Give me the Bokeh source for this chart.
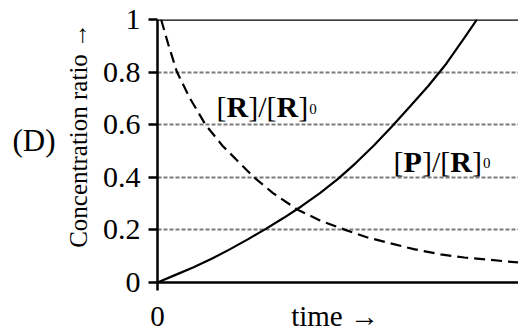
from bokeh.plotting import figure
from bokeh.models import Range1d, FixedTicker, Span, LinearAxis, ColumnDataSource
from bokeh.core.properties import value
from bokeh.embed import file_html
from bokeh.resources import INLINE

# ---- data ----
p_time = [0.0, 0.5, 1.0, 1.5, 2.0, 2.5, 3.0, 3.5, 4.0, 4.5, 5.0, 5.5, 6.0, 6.5, 7.0, 7.5, 8.0, 8.5, 8.85]
p_ratio = [0.0, 0.029, 0.058, 0.090, 0.126, 0.164, 0.204, 0.246, 0.291, 0.34, 0.394, 0.455, 0.522, 0.594, 0.67, 0.747, 0.832, 0.93, 1.0]

r_time = [0.1, 0.3, 0.54, 0.9, 1.33, 1.8, 2.2, 2.67, 3.2, 3.87, 4.5, 5.2, 5.8, 6.45, 7.1, 7.84, 8.5, 9.22, 10.0]
r_ratio = [1.0, 0.905, 0.8, 0.70, 0.6, 0.52, 0.465, 0.4, 0.34, 0.278, 0.236, 0.2, 0.172, 0.149, 0.127, 0.107, 0.095, 0.086, 0.076]

y_ticks = [0, 0.2, 0.4, 0.6, 0.8, 1]
y_tick_labels = ["0", "0.2", "0.4", "0.6", "0.8", "1"]
x_ticks = [0, 4.92]
x_tick_labels = ["0", "time \u2192"]
y_title = "Concentration ratio \u2192"
panel_tag = "(D)"
panel_tag_y = 0.54

SERIF = "Liberation Serif"

p = figure(width=518, height=334, x_range=Range1d(0, 10.0), y_range=Range1d(0, 1),
           output_backend="svg", toolbar_location=None,
           min_border_left=157, min_border_right=0, min_border_top=19, min_border_bottom=42)
p.outline_line_color = None
p.background_fill_color = "white"
p.border_fill_color = "white"

# x axis: "0" and "time ->" as tick labels, tick mark only at 0
p.xaxis.ticker = FixedTicker(ticks=x_ticks, minor_ticks=[x_ticks[0]])
p.xaxis.major_label_overrides = {t: s for t, s in zip(x_ticks, x_tick_labels)}
p.xaxis.major_label_text_font = SERIF
p.xaxis.major_label_text_font_size = "29px"
p.xaxis.major_label_text_color = "black"
p.xaxis.major_label_standoff = 9
p.xaxis.major_tick_line_color = None
p.xaxis.major_tick_in = 0
p.xaxis.major_tick_out = 0
p.xaxis.minor_tick_line_color = "black"
p.xaxis.minor_tick_line_width = 2.5
p.xaxis.minor_tick_in = 0
p.xaxis.minor_tick_out = 8
p.xaxis.axis_line_width = 2.5
p.xaxis.axis_line_color = "black"

# y axis
yax = p.yaxis[0]
yax.ticker = FixedTicker(ticks=y_ticks)
yax.major_label_overrides = {t: s for t, s in zip(y_ticks, y_tick_labels)}
yax.major_label_text_font = SERIF
yax.major_label_text_font_size = "30px"
yax.major_label_text_color = "black"
yax.major_label_standoff = 8
yax.axis_line_width = 2.5
yax.axis_line_color = "black"
yax.major_tick_line_width = 2.5
yax.major_tick_line_color = "black"
yax.major_tick_in = 0
yax.major_tick_out = 9
yax.minor_tick_line_color = None
yax.axis_label = "\u00a0" * 5 + y_title
yax.axis_label_text_font = SERIF
yax.axis_label_text_font_size = "25px"
yax.axis_label_text_font_style = "normal"
yax.axis_label_text_color = "black"
yax.axis_label_standoff = 8

# panel tag "(D)" as a second, bare left axis
tag_axis = LinearAxis(ticker=FixedTicker(ticks=[panel_tag_y]),
                      major_label_overrides={panel_tag_y: panel_tag},
                      axis_line_color=None, major_tick_line_color=None, minor_tick_line_color=None,
                      major_tick_in=0, major_tick_out=0, major_label_standoff=6,
                      major_label_text_font=SERIF, major_label_text_font_size="31px",
                      major_label_text_color="black")
p.add_layout(tag_axis, "left")

p.xgrid.grid_line_color = None
p.ygrid.ticker = FixedTicker(ticks=y_ticks[1:-1])
p.ygrid.grid_line_color = "#7a7a7a"
p.ygrid.grid_line_width = 2
p.ygrid.grid_line_dash = "4 2"

p.add_layout(Span(location=y_ticks[-1], dimension="width", line_color="black", line_width=2.5))

# curves
p.line(r_time, r_ratio, line_color="black", line_width=2.2, line_dash="11 6")
p.line(p_time, p_ratio, line_color="black", line_width=2.2)

# curve labels with bold symbols and subscript
EM = {"[": 0.333, "]": 0.333, "/": 0.278, "]/[": 0.944, "R": 0.722, "P": 0.611, "0": 0.5}
def pieces(x0, y0, sym1, sym2, fs=30, sub=15):
    xs, ys, txt, dx, dy, sizes, styles = [], [], [], [], [], [], []
    off = 0.0
    for t, bold in [("[", False), (sym1, True), ("]/[", False), (sym2, True), ("]", False)]:
        xs.append(x0); ys.append(y0); txt.append(t); dx.append(off); dy.append(0)
        sizes.append(f"{fs}px"); styles.append("bold" if bold else "normal")
        off += EM[t] * fs
    xs.append(x0); ys.append(y0); txt.append("0"); dx.append(off + 1); dy.append(2)
    sizes.append(f"{sub}px"); styles.append("normal")
    return dict(x=xs, y=ys, text=txt, dx=dx, dy=dy, size=sizes, style=styles)

for lab in [pieces(1.635, 0.668, "R", "R"), pieces(6.54, 0.461, "P", "R")]:
    src = ColumnDataSource(lab)
    p.text(x="x", y="y", text="text", source=src, x_offset="dx", y_offset="dy",
           text_font=value(SERIF), text_font_size="size", text_font_style="style",
           text_align="left", text_baseline="alphabetic", text_color="black")

open("out.html", "w").write(file_html(p, INLINE))
